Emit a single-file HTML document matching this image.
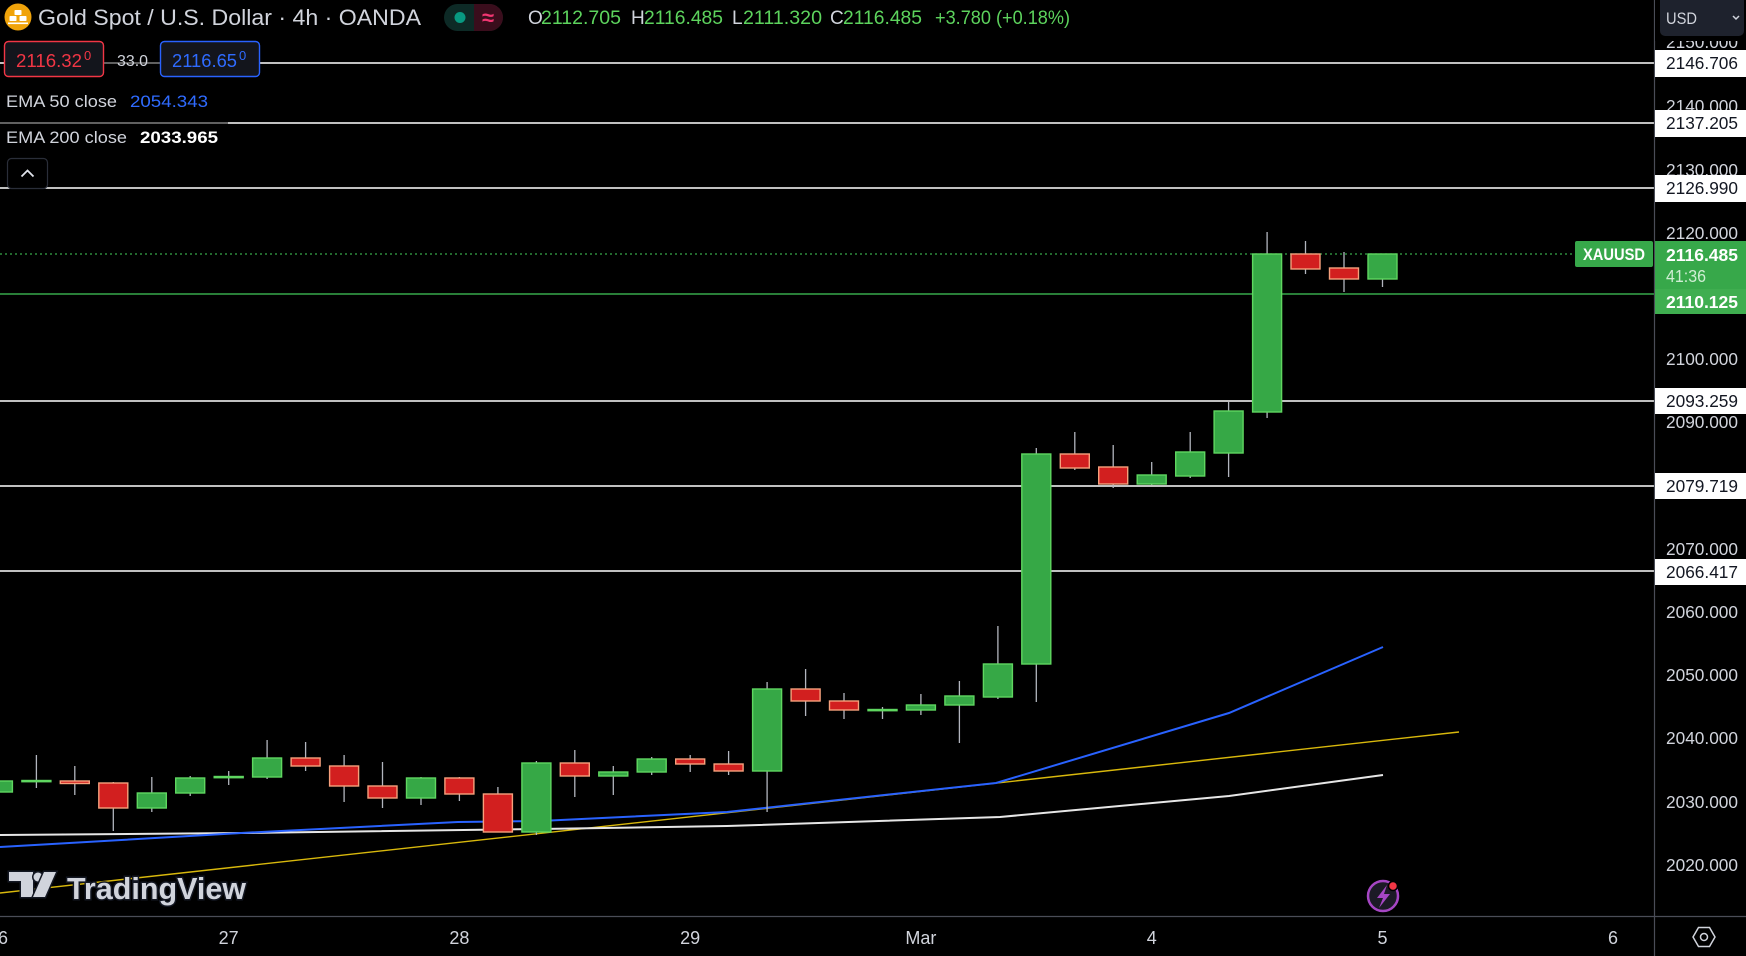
<!DOCTYPE html>
<html>
<head>
<meta charset="utf-8">
<style>
  html,body{margin:0;padding:0;background:#000;}
  body{width:1746px;height:956px;overflow:hidden;}
  svg{display:block;}
  text{font-family:"Liberation Sans","DejaVu Sans",sans-serif;}
</style>
</head>
<body>
<svg width="1746" height="956" viewBox="0 0 1746 956" xmlns="http://www.w3.org/2000/svg">
  <rect x="0" y="0" width="1746" height="956" fill="#000"/>

  <!-- horizontal levels -->
  <g stroke="#ffffff" stroke-width="1.6">
    <line x1="0" y1="63" x2="1654" y2="63"/>
    <line x1="0" y1="123" x2="1654" y2="123"/>
    <line x1="0" y1="188" x2="1654" y2="188"/>
    <line x1="0" y1="401" x2="1654" y2="401"/>
    <line x1="0" y1="486" x2="1654" y2="486"/>
    <line x1="0" y1="571" x2="1654" y2="571"/>
  </g>
  <line x1="0" y1="294" x2="1654" y2="294" stroke="#37a84a" stroke-width="1.6"/>
  <line x1="0" y1="254" x2="1575" y2="254" stroke="#37a84a" stroke-width="1.2" stroke-dasharray="2,3"/>

  <!-- EMA lines -->
  <polyline fill="none" stroke="#d8b80c" stroke-width="1.4" points="0,893 1459,732"/>
  <polyline fill="none" stroke="#e6e6e6" stroke-width="2" points="0,835 241,833 540,829 727,826 1000,817 1229,796 1383,775"/>
  <polyline fill="none" stroke="#2962ff" stroke-width="2" points="0,847 241,833 458,822 540,821 727,812 996,783 1229,713 1383,647"/>

  <!-- wicks -->
  <g stroke="#b2b5be" stroke-width="1.3">
    <line x1="-2.1" y1="779" x2="-2.1" y2="795"/>
    <line x1="36.4" y1="755" x2="36.4" y2="788"/>
    <line x1="74.8" y1="766" x2="74.8" y2="795"/>
    <line x1="113.3" y1="782" x2="113.3" y2="831"/>
    <line x1="151.8" y1="777" x2="151.8" y2="812"/>
    <line x1="190.2" y1="776" x2="190.2" y2="796"/>
    <line x1="228.7" y1="771" x2="228.7" y2="785"/>
    <line x1="267.1" y1="740" x2="267.1" y2="779"/>
    <line x1="305.6" y1="742" x2="305.6" y2="771"/>
    <line x1="344.1" y1="755" x2="344.1" y2="802"/>
    <line x1="382.5" y1="762" x2="382.5" y2="808"/>
    <line x1="421" y1="777" x2="421" y2="805"/>
    <line x1="459.4" y1="777" x2="459.4" y2="801"/>
    <line x1="497.9" y1="787" x2="497.9" y2="832"/>
    <line x1="536.4" y1="761" x2="536.4" y2="835"/>
    <line x1="574.8" y1="750" x2="574.8" y2="797"/>
    <line x1="613.3" y1="766" x2="613.3" y2="795"/>
    <line x1="651.7" y1="757" x2="651.7" y2="775"/>
    <line x1="690.2" y1="755" x2="690.2" y2="772"/>
    <line x1="728.6" y1="751" x2="728.6" y2="775"/>
    <line x1="767.1" y1="682" x2="767.1" y2="812"/>
    <line x1="805.6" y1="669" x2="805.6" y2="716"/>
    <line x1="844" y1="693" x2="844" y2="719"/>
    <line x1="882.5" y1="707" x2="882.5" y2="719"/>
    <line x1="920.9" y1="694" x2="920.9" y2="715"/>
    <line x1="959.4" y1="681" x2="959.4" y2="743"/>
    <line x1="997.9" y1="626" x2="997.9" y2="699"/>
    <line x1="1036.3" y1="448" x2="1036.3" y2="702"/>
    <line x1="1074.8" y1="432" x2="1074.8" y2="470"/>
    <line x1="1113.2" y1="445" x2="1113.2" y2="488"/>
    <line x1="1151.7" y1="462" x2="1151.7" y2="485"/>
    <line x1="1190.2" y1="432" x2="1190.2" y2="478"/>
    <line x1="1228.6" y1="402" x2="1228.6" y2="477"/>
    <line x1="1267.1" y1="232" x2="1267.1" y2="418"/>
    <line x1="1305.5" y1="241" x2="1305.5" y2="274"/>
    <line x1="1344" y1="252" x2="1344" y2="292"/>
    <line x1="1382.5" y1="254" x2="1382.5" y2="287"/>
  </g>

  <!-- green bodies -->
  <g fill="#36a846" stroke="#5fd660" stroke-width="1.4">
    <rect x="-16.6" y="781" width="29" height="11"/>
    <rect x="21.9" y="780.5" width="29" height="1.2"/>
    <rect x="137.3" y="793" width="29" height="15"/>
    <rect x="175.7" y="778" width="29" height="15"/>
    <rect x="214.2" y="776.5" width="29" height="1.2"/>
    <rect x="252.6" y="758" width="29" height="19"/>
    <rect x="406.5" y="778" width="29" height="20"/>
    <rect x="521.9" y="763" width="29" height="69"/>
    <rect x="598.8" y="772" width="29" height="4"/>
    <rect x="637.2" y="759" width="29" height="13"/>
    <rect x="752.6" y="689" width="29" height="82"/>
    <rect x="868" y="709.5" width="29" height="1.2"/>
    <rect x="906.4" y="705" width="29" height="5"/>
    <rect x="944.9" y="696" width="29" height="9"/>
    <rect x="983.4" y="664" width="29" height="33"/>
    <rect x="1021.8" y="454" width="29" height="210"/>
    <rect x="1137.2" y="475" width="29" height="9"/>
    <rect x="1175.7" y="452" width="29" height="24"/>
    <rect x="1214.1" y="411" width="29" height="42"/>
    <rect x="1252.6" y="254" width="29" height="158"/>
    <rect x="1368" y="254" width="29" height="25"/>
  </g>
  <!-- red bodies -->
  <g fill="#d21f1f" stroke="#f6a07c" stroke-width="1.4">
    <rect x="60.3" y="781" width="29" height="2.5"/>
    <rect x="98.8" y="783" width="29" height="25"/>
    <rect x="291.1" y="758" width="29" height="8"/>
    <rect x="329.6" y="766" width="29" height="20"/>
    <rect x="368" y="786" width="29" height="12"/>
    <rect x="444.9" y="778" width="29" height="16"/>
    <rect x="483.4" y="794" width="29" height="38"/>
    <rect x="560.3" y="763" width="29" height="13"/>
    <rect x="675.7" y="759" width="29" height="5"/>
    <rect x="714.1" y="764" width="29" height="7"/>
    <rect x="791.1" y="689" width="29" height="12"/>
    <rect x="829.5" y="701" width="29" height="9"/>
    <rect x="1060.3" y="454" width="29" height="14"/>
    <rect x="1098.7" y="467" width="29" height="17"/>
    <rect x="1291" y="254" width="29" height="15"/>
    <rect x="1329.5" y="268" width="29" height="11"/>
  </g>

  <!-- TradingView logo -->
  <g stroke="#131722" stroke-width="3" paint-order="stroke" fill="#d1d4dc">
    <path d="M9 872 H33 V897 H21 V881 H9 Z"/>
    <circle cx="38" cy="877" r="4.5"/>
    <path d="M44 872 H56 L45 897 H33 Z"/>
    <text x="67" y="899" font-size="31" font-weight="bold" textLength="179" lengthAdjust="spacingAndGlyphs">TradingView</text>
  </g>

  <!-- lightning icon -->
  <circle cx="1383" cy="896" r="15" fill="#1c1a26" stroke="#a646c4" stroke-width="2.5"/>
  <path d="M1387 885 L1377 898 H1383 L1379 908 L1390 894 H1384 Z" fill="#a646c4"/>
  <circle cx="1393" cy="886" r="4.5" fill="#f23645" stroke="#000" stroke-width="1.5"/>

  <!-- header -->
  <circle cx="18" cy="17" r="13.5" fill="#f0a30a"/>
  <g fill="#ffffff">
    <rect x="14.5" y="10" width="7" height="5" rx="0.8"/>
    <rect x="9.5" y="16" width="7" height="5" rx="0.8"/>
    <rect x="19.5" y="16" width="7" height="5" rx="0.8"/>
    <rect x="8" y="22.5" width="20" height="1.6"/>
  </g>
  <text x="38" y="25" font-size="22" fill="#d1d4dc" textLength="383" lengthAdjust="spacingAndGlyphs">Gold Spot / U.S. Dollar · 4h · OANDA</text>

  <rect x="444" y="4" width="59" height="27" rx="13.5" fill="#0d2a26"/>
  <path d="M474 4 H489.5 A13.5 13.5 0 0 1 489.5 31 H474 Z" fill="#3a0d1c"/>
  <circle cx="460" cy="17.5" r="5.5" fill="#089981"/>
  <text x="488" y="25" font-size="22" font-weight="bold" fill="#f23672" text-anchor="middle">≈</text>

  <g font-size="19">
    <text x="528" y="24" fill="#d1d4dc">O</text>
    <text x="541" y="24" fill="#5dd35d" textLength="80" lengthAdjust="spacingAndGlyphs">2112.705</text>
    <text x="631" y="24" fill="#d1d4dc">H</text>
    <text x="644" y="24" fill="#5dd35d" textLength="79" lengthAdjust="spacingAndGlyphs">2116.485</text>
    <text x="732" y="24" fill="#d1d4dc">L</text>
    <text x="743" y="24" fill="#5dd35d" textLength="79" lengthAdjust="spacingAndGlyphs">2111.320</text>
    <text x="830" y="24" fill="#d1d4dc">C</text>
    <text x="843" y="24" fill="#5dd35d" textLength="79" lengthAdjust="spacingAndGlyphs">2116.485</text>
    <text x="935" y="24" fill="#5dd35d" textLength="135" lengthAdjust="spacingAndGlyphs">+3.780 (+0.18%)</text>
  </g>

  <!-- bid / ask -->
  <rect x="104" y="41" width="56" height="36" fill="#000" opacity="0.5"/>
  <rect x="4.5" y="41.5" width="99" height="35" rx="4" fill="#13151c" stroke="#f23645" stroke-width="1.4"/>
  <text x="16" y="67" font-size="18" fill="#f23645" textLength="66" lengthAdjust="spacingAndGlyphs">2116.32</text>
  <text x="84" y="60" font-size="13" fill="#f23645">0</text>
  <text x="117" y="66" font-size="16" fill="#d1d4dc" textLength="31" lengthAdjust="spacingAndGlyphs">33.0</text>
  <rect x="160.5" y="41.5" width="99" height="35" rx="4" fill="#13151c" stroke="#2962ff" stroke-width="1.4"/>
  <text x="172" y="67" font-size="18" fill="#2f6bff" textLength="65" lengthAdjust="spacingAndGlyphs">2116.65</text>
  <text x="239" y="60" font-size="13" fill="#2f6bff">0</text>

  <!-- legend -->
  <rect x="0" y="118" width="228" height="10" fill="#000" opacity="0.5"/>
  <text x="6" y="107" font-size="17" fill="#d1d4dc" textLength="111" lengthAdjust="spacingAndGlyphs">EMA 50 close</text>
  <text x="130" y="107" font-size="17" fill="#2f6bff" textLength="78" lengthAdjust="spacingAndGlyphs">2054.343</text>
  <text x="6" y="143" font-size="17" fill="#d1d4dc" textLength="121" lengthAdjust="spacingAndGlyphs">EMA 200 close</text>
  <text x="140" y="143" font-size="17" fill="#ffffff" font-weight="bold" textLength="78" lengthAdjust="spacingAndGlyphs">2033.965</text>

  <rect x="7.5" y="158.5" width="40" height="30" rx="4" fill="#000" stroke="#2a2e39" stroke-width="1.2"/>
  <polyline points="21.5,176.5 27.5,170.5 33.5,176.5" fill="none" stroke="#e0e3eb" stroke-width="1.8"/>

  <!-- axes -->
  <line x1="1654.5" y1="0" x2="1654.5" y2="956" stroke="#4a4d57" stroke-width="1.2"/>
  <line x1="0" y1="916.5" x2="1746" y2="916.5" stroke="#4a4d57" stroke-width="1.2"/>

  <g font-size="17.5" fill="#d1d4dc">
    <text x="1666" y="48" textLength="72" lengthAdjust="spacingAndGlyphs">2150.000</text>
    <text x="1666" y="112" textLength="72" lengthAdjust="spacingAndGlyphs">2140.000</text>
    <text x="1666" y="176" textLength="72" lengthAdjust="spacingAndGlyphs">2130.000</text>
    <text x="1666" y="239" textLength="72" lengthAdjust="spacingAndGlyphs">2120.000</text>
    <text x="1666" y="365" textLength="72" lengthAdjust="spacingAndGlyphs">2100.000</text>
    <text x="1666" y="428" textLength="72" lengthAdjust="spacingAndGlyphs">2090.000</text>
    <text x="1666" y="555" textLength="72" lengthAdjust="spacingAndGlyphs">2070.000</text>
    <text x="1666" y="618" textLength="72" lengthAdjust="spacingAndGlyphs">2060.000</text>
    <text x="1666" y="681" textLength="72" lengthAdjust="spacingAndGlyphs">2050.000</text>
    <text x="1666" y="744" textLength="72" lengthAdjust="spacingAndGlyphs">2040.000</text>
    <text x="1666" y="808" textLength="72" lengthAdjust="spacingAndGlyphs">2030.000</text>
    <text x="1666" y="871" textLength="72" lengthAdjust="spacingAndGlyphs">2020.000</text>
  </g>
  <rect x="1655" y="0" width="91" height="41" fill="#000"/>

  <!-- USD button -->
  <rect x="1660" y="-6" width="84" height="42" rx="5" fill="#1e222d"/>
  <text x="1666" y="24" font-size="17" fill="#d1d4dc" textLength="31" lengthAdjust="spacingAndGlyphs">USD</text>
  <polyline points="1733,16 1736,19 1739,16" fill="none" stroke="#d1d4dc" stroke-width="1.5"/>

  <!-- level boxes -->
  <g fill="#ffffff">
    <rect x="1655" y="50" width="91" height="27"/>
    <rect x="1655" y="110" width="91" height="27"/>
    <rect x="1655" y="175" width="91" height="27"/>
    <rect x="1655" y="388" width="91" height="26"/>
    <rect x="1655" y="473" width="91" height="26"/>
    <rect x="1655" y="559" width="91" height="26"/>
  </g>
  <g font-size="17.5" fill="#131722">
    <text x="1666" y="69" textLength="72" lengthAdjust="spacingAndGlyphs">2146.706</text>
    <text x="1666" y="129" textLength="72" lengthAdjust="spacingAndGlyphs">2137.205</text>
    <text x="1666" y="194" textLength="72" lengthAdjust="spacingAndGlyphs">2126.990</text>
    <text x="1666" y="407" textLength="72" lengthAdjust="spacingAndGlyphs">2093.259</text>
    <text x="1666" y="492" textLength="72" lengthAdjust="spacingAndGlyphs">2079.719</text>
    <text x="1666" y="578" textLength="72" lengthAdjust="spacingAndGlyphs">2066.417</text>
  </g>

  <rect x="1655" y="241" width="91" height="48" fill="#37a84a"/>
  <rect x="1655" y="289" width="91" height="25" fill="#3fae50"/>
  <text x="1666" y="261" font-size="17.5" fill="#ffffff" font-weight="bold" textLength="72" lengthAdjust="spacingAndGlyphs">2116.485</text>
  <text x="1666" y="282" font-size="17.5" fill="#cfeed3" textLength="40" lengthAdjust="spacingAndGlyphs">41:36</text>
  <text x="1666" y="308" font-size="17.5" fill="#ffffff" font-weight="bold" textLength="72" lengthAdjust="spacingAndGlyphs">2110.125</text>

  <rect x="1575" y="241" width="78" height="26" rx="2" fill="#37a84a"/>
  <text x="1614" y="260" font-size="17" fill="#ffffff" font-weight="bold" text-anchor="middle" textLength="62" lengthAdjust="spacingAndGlyphs">XAUUSD</text>

  <!-- time axis labels -->
  <g font-size="18" fill="#d1d4dc" text-anchor="middle">
    <text x="-2" y="944">26</text>
    <text x="228.7" y="944">27</text>
    <text x="459.4" y="944">28</text>
    <text x="690.2" y="944">29</text>
    <text x="920.9" y="944">Mar</text>
    <text x="1151.7" y="944">4</text>
    <text x="1382.5" y="944">5</text>
    <text x="1613" y="944">6</text>
  </g>

  <!-- settings hex -->
  <polygon points="1693,937 1698.5,927.5 1709.5,927.5 1715,937 1709.5,946.5 1698.5,946.5" fill="none" stroke="#d1d4dc" stroke-width="1.5"/>
  <circle cx="1704" cy="937" r="3.5" fill="none" stroke="#d1d4dc" stroke-width="1.5"/>
</svg>
</body>
</html>
